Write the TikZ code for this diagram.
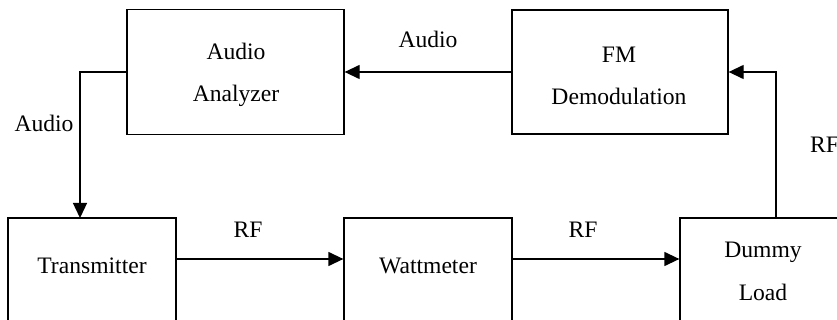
\documentclass[tikz,border=0pt]{standalone}
\usepackage{fontspec}
\setmainfont{Liberation Serif}
\usetikzlibrary{arrows.meta}
\begin{document}
\begin{tikzpicture}[x=1pt,y=-1pt,
  box/.style={draw,line width=1.3pt,minimum width=#1,inner sep=0pt},
  txt/.style={anchor=base,inner sep=0pt,font=\fontsize{23.6}{28}\selectfont},
  arr/.style={line width=1.3pt,-{Triangle[length=15pt,width=14pt]}},
  wire/.style={line width=1.3pt}]
\useasboundingbox (0,0) rectangle (837,320);
\clip (0,0) rectangle (837,320);
% boxes
\node[box=217pt,minimum height=124.5pt] (AA) at (235.5,72) {};
\node[box=216pt,minimum height=124pt] (FM) at (620,72) {};
\node[box=168pt,minimum height=140pt] (TX) at (92,288) {};
\node[box=168pt,minimum height=140pt] (WM) at (428,288) {};
\node[box=168pt,minimum height=140pt] (DL) at (764,288) {};
% box texts
\node[txt] (aa1) at (236,60) {Audio};
\node[txt] (aa2) at (236,102) {Analyzer};
\node[txt] (fm1) at (619,63) {FM};
\node[txt] (fm2) at (619,105) {Demodulation};
\node[txt] (tx1) at (92,273) {Transmitter};
\node[txt] (wm1) at (428,273) {Wattmeter};
\node[txt] (dl1) at (763,258) {Dummy};
\node[txt] (dl2) at (763,300) {Load};
% connector labels
\node[txt] (l1) at (428,48) {Audio};
\node[txt] (l2) at (44,131.5) {Audio};
\node[txt] (l3) at (248,237) {RF};
\node[txt] (l4) at (583,237) {RF};
\node[txt] (l5) at (824.5,153) {RF};
% helper coordinates
\coordinate (txin) at (80,218);
\coordinate (rfy) at (0,259);
\coordinate (dlout) at (776,218);
% connectors
\draw[arr] (FM.west) -- (AA.east);
\draw[arr] (AA.west) -| (txin);
\draw[arr] (TX.east |- rfy) -- (WM.west |- rfy);
\draw[arr] (WM.east |- rfy) -- (DL.west |- rfy);
\draw[arr] (dlout) |- (FM.east);
\end{tikzpicture}
\end{document}
